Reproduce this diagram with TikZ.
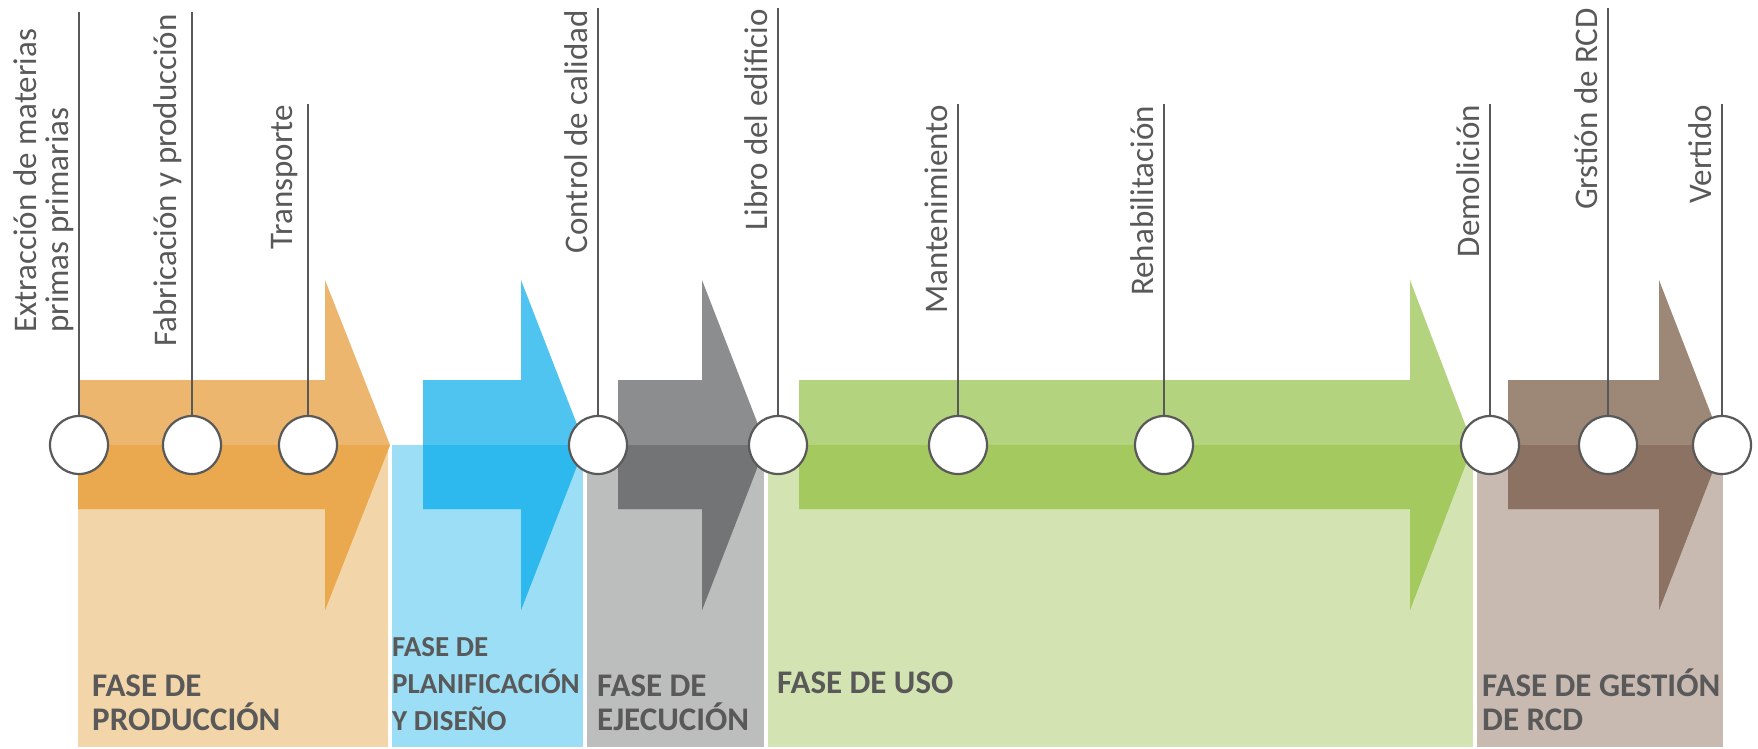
\documentclass[tikz,border=0pt]{standalone}
\usepackage{fontspec}
\setmainfont{Carlito}
\definecolor{txtgray}{HTML}{595959}
\definecolor{orRect}{HTML}{F3D5AA}\definecolor{orUp}{HTML}{EDB66E}\definecolor{orLow}{HTML}{EAA94F}
\definecolor{blRect}{HTML}{9CDEF6}\definecolor{blUp}{HTML}{50C4F0}\definecolor{blLow}{HTML}{2DB9EE}
\definecolor{grRect}{HTML}{BCBDBD}\definecolor{grUp}{HTML}{8C8D8F}\definecolor{grLow}{HTML}{737476}
\definecolor{gnRect}{HTML}{D3E4B2}\definecolor{gnUp}{HTML}{B3D37E}\definecolor{gnLow}{HTML}{A3C95F}
\definecolor{brRect}{HTML}{C8B9B1}\definecolor{brUp}{HTML}{9D8878}\definecolor{brLow}{HTML}{8B7263}
% #1 body left, #2 head base, #3 tip
\newcommand\arrowshape[3]{(#1,380) -- (#2,380) -- (#2,280) -- (#3,445) -- (#2,610) -- (#2,509) -- (#1,509) -- cycle}
% #1 rect left, #2 rect right, #3 body left, #4 head base, #5 tip, #6 rect col, #7 up col, #8 low col
\newcommand\phaseblock[8]{%
  \fill[#6] (#1,445) rectangle (#2,747);
  \fill[#7] \arrowshape{#3}{#4}{#5};
  \begin{scope}
    \clip (0,445) rectangle (1758,748);
    \fill[#8] \arrowshape{#3}{#4}{#5};
  \end{scope}}
\begin{document}
\begin{tikzpicture}[x=1pt,y=-1pt,
  lbl/.style={rotate=90, anchor=south east, inner sep=0pt, text=txtgray, font=\fontsize{33}{32}\selectfont},
  phase/.style={anchor=south west, inner sep=0pt, align=left, text=txtgray, font=\fontsize{33}{34}\selectfont\bfseries},
  dot/.style={circle, draw=txtgray, line width=2.2pt, fill=white, minimum size=58pt, inner sep=0pt},
  stem/.style={draw=txtgray, line width=2.2pt}]
\useasboundingbox (0,0) rectangle (1758,748);
\fill[white] (0,0) rectangle (1758,748);

\phaseblock{78}{388}{78}{325}{390}{orRect}{orUp}{orLow}
\phaseblock{392}{583}{423}{521}{585}{blRect}{blUp}{blLow}
\phaseblock{587}{764}{618}{702}{766}{grRect}{grUp}{grLow}
\phaseblock{768}{1473}{799}{1410}{1473}{gnRect}{gnUp}{gnLow}
\phaseblock{1477}{1723}{1508}{1659}{1723}{brRect}{brUp}{brLow}

% stems tops
\coordinate (t1) at (79,12);
\coordinate (t2) at (192,12);
\coordinate (t3) at (308,104);
\coordinate (t4) at (598,8);
\coordinate (t5) at (778,8);
\coordinate (t6) at (958,104);
\coordinate (t7) at (1164,104);
\coordinate (t8) at (1490,104);
\coordinate (t9) at (1608,8);
\coordinate (t10) at (1722,104);

\foreach \i/\x in {1/79,2/192,3/308,4/598,5/778,6/958,7/1164,8/1490,9/1608,10/1722}{
  \path (\x,445) coordinate (c\i);
  \draw[stem] (t\i) -- (c\i);
  \node[dot] (d\i) at (c\i) {};
}

% labels
\node[lbl, anchor=south west, align=left] (l1) at (74,333) {Extracción de materias\\primas primarias};
\node[lbl] (l2) at (182,14) {Fabricación y producción};
\node[lbl] (l3) at (298,105) {Transporte};
\node[lbl] (l4) at (588,10) {Control de calidad};
\node[lbl] (l5) at (768,9) {Libro del edificio};
\node[lbl] (l6) at (948,105) {Mantenimiento};
\node[lbl] (l7) at (1154,106) {Rehabilitación};
\node[lbl] (l8) at (1480,105) {Demolición};
\node[lbl] (l9) at (1598,8) {Grstión de RCD};
\node[lbl] (l10) at (1712,105) {Vertido};

% phase names
\node[phase] (p1) at (92,731) {FASE DE\\PRODUCCIÓN};
\node[phase, font=\fontsize{29}{37}\selectfont\bfseries] (p2) at (392,731) {FASE DE\\PLANIFICACIÓN\\Y DISEÑO};
\node[phase] (p3) at (597,731) {FASE DE\\EJECUCIÓN};
\node[phase] (p4) at (777,694) {FASE DE USO};
\node[phase] (p5) at (1482,731) {FASE DE GESTIÓN\\DE RCD};
\end{tikzpicture}
\end{document}
